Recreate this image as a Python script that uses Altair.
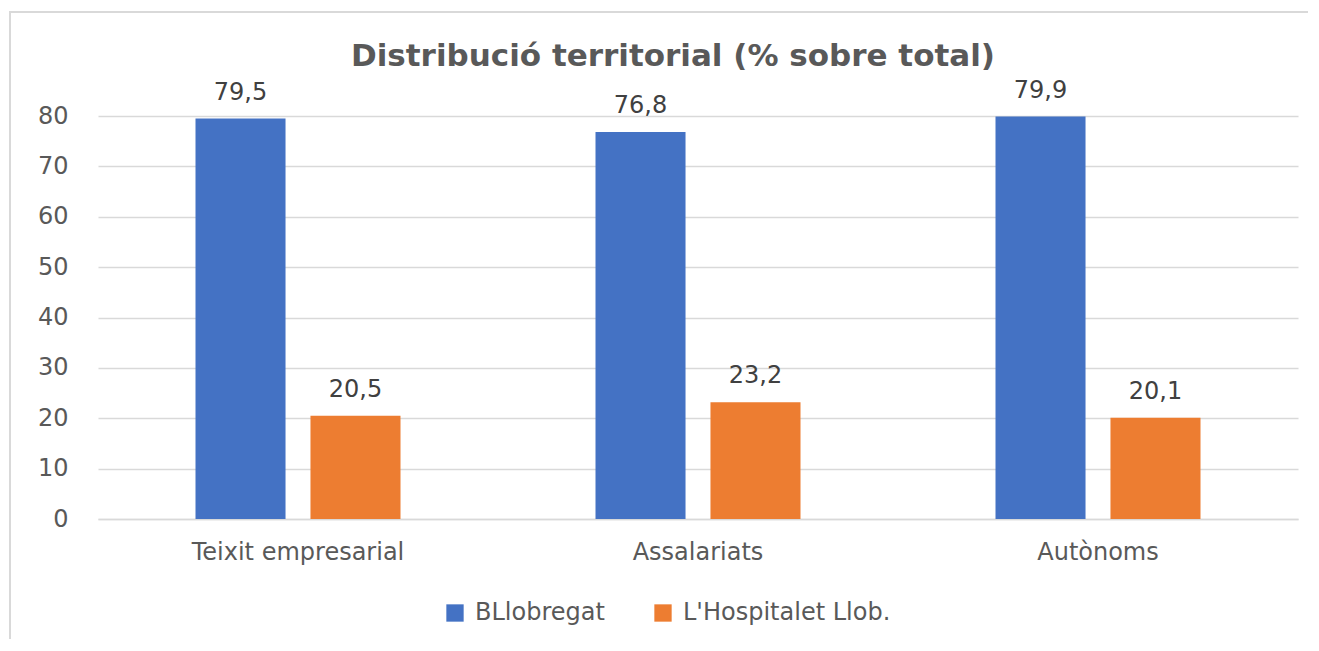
import altair as alt
import pandas as pd

categories = ["Teixit empresarial", "Assalariats", "Autònoms"]
series = ["BLlobregat", "L'Hospitalet Llob."]
bllobregat = [79.5, 76.8, 79.9]
hospitalet = [20.5, 23.2, 20.1]
colors = ["#4472C4", "#ED7D31"]
title_text = "Distribució territorial (% sobre total)"

rows = []
for i, c in enumerate(categories):
    rows.append({"cat": c, "serie": series[0], "value": bllobregat[i]})
    rows.append({"cat": c, "serie": series[1], "value": hospitalet[i]})
df = pd.DataFrame(rows)

FONT = "DejaVu Sans"
GRAY = "#595959"

base = alt.Chart(df).encode(
    x=alt.X("cat:N", sort=categories, title=None,
            scale=alt.Scale(paddingInner=0, paddingOuter=0),
            axis=alt.Axis(labelAngle=0, labelFontSize=24, labelColor=GRAY, labelFont=FONT,
                          labelPadding=21, labelLimit=0, ticks=False, domain=True,
                          domainColor="#d9d9d9", domainWidth=1.5, grid=False)),
    xOffset=alt.XOffset("serie:N", sort=series,
                        scale=alt.Scale(paddingInner=0.217, paddingOuter=0.848)),
)

bars = base.mark_bar().encode(
    y=alt.Y("value:Q", title=None,
            scale=alt.Scale(domain=[0, 80], nice=False),
            axis=alt.Axis(values=[0, 10, 20, 30, 40, 50, 60, 70, 80], labelFontSize=24,
                          labelColor=GRAY, labelFont=FONT, labelPadding=30, ticks=False,
                          domain=False, grid=True, gridColor="#d9d9d9", gridWidth=1.5)),
    color=alt.Color("serie:N", sort=series,
                    scale=alt.Scale(domain=series, range=colors),
                    legend=alt.Legend(title=None, orient="none", direction="horizontal",
                                      legendX=345, legendY=485, symbolType="square",
                                      symbolSize=300, symbolStrokeWidth=0, labelFontSize=24,
                                      labelColor=GRAY, labelFont=FONT, columnPadding=46,
                                      labelOffset=8, labelLimit=0)),
)

labels = base.transform_calculate(
    lab="replace(format(datum.value, '.1f'), '.', ',')"
).mark_text(dy=-14, baseline="bottom", fontSize=24, font=FONT, color="#404040").encode(
    y="value:Q",
    text="lab:N",
)

title = alt.Chart(pd.DataFrame({"t": [title_text]})).mark_text(
    fontSize=31, font=FONT, fontWeight="bold", color=GRAY, baseline="middle", align="center"
).encode(x=alt.value(575), y=alt.value(-59), text="t:N")

frame = alt.Chart(pd.DataFrame({"a": [0]})).mark_rect(
    fill=None, stroke="#d9d9d9", strokeWidth=2
).encode(
    x=alt.value(-88), x2=alt.value(1230), y=alt.value(-104), y2=alt.value(560)
)

chart = alt.layer(frame, bars, labels, title).properties(
    width=1200, height=403,
    padding={"left": 90, "top": 108, "right": 10, "bottom": 120},
    autosize=alt.AutoSizeParams(type="none"),
    background="white",
).configure_view(stroke=None)

chart.save("out.html", embed_options={"renderer": "svg", "actions": False})
